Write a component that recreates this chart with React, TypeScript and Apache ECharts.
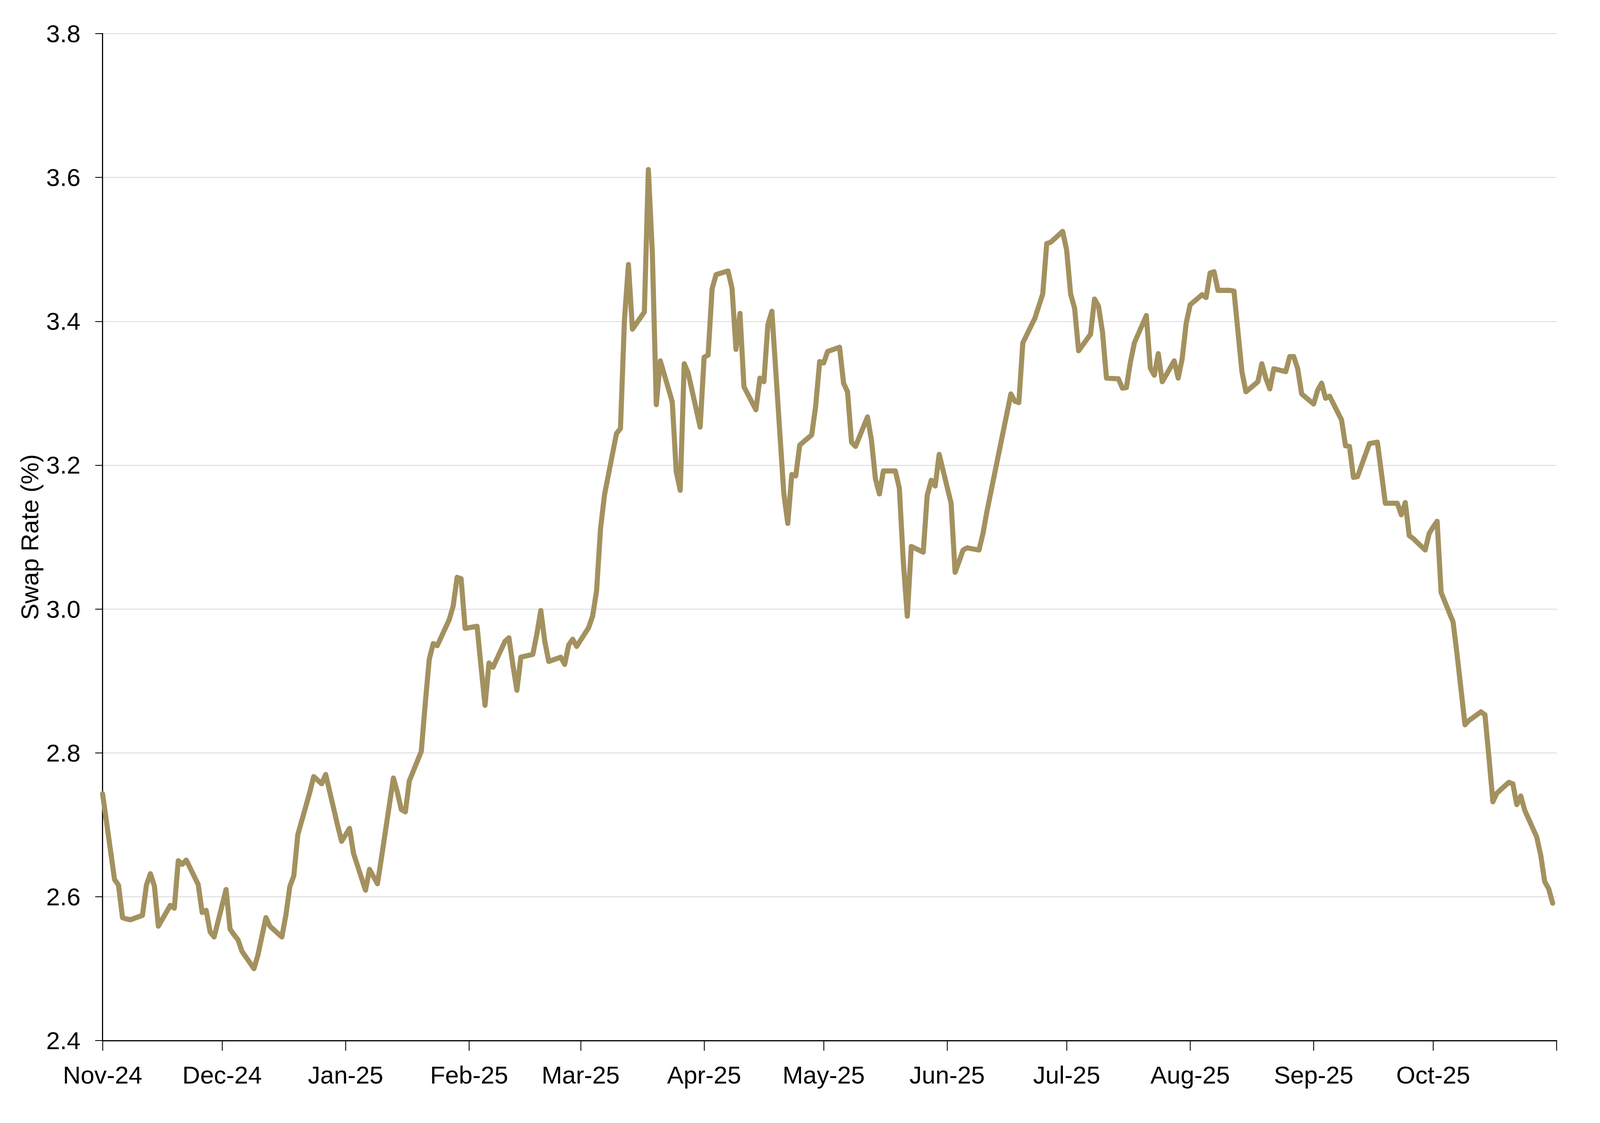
import React, { useEffect, useRef } from "react";
import * as echarts from "echarts";

const obsDates: string[] = [
  "2024-11-01","2024-11-04","2024-11-05","2024-11-06","2024-11-07","2024-11-08","2024-11-11","2024-11-12","2024-11-13","2024-11-14","2024-11-15",
  "2024-11-18","2024-11-19","2024-11-20","2024-11-21","2024-11-22","2024-11-25","2024-11-26","2024-11-27","2024-11-28","2024-11-29",
  "2024-12-02","2024-12-03","2024-12-04","2024-12-05","2024-12-06","2024-12-09","2024-12-10","2024-12-11","2024-12-12","2024-12-13",
  "2024-12-16","2024-12-17","2024-12-18","2024-12-19","2024-12-20","2024-12-23","2024-12-24","2024-12-26","2024-12-27","2024-12-30","2024-12-31",
  "2025-01-02","2025-01-03","2025-01-06","2025-01-07","2025-01-08","2025-01-09","2025-01-10","2025-01-13","2025-01-14","2025-01-15","2025-01-16","2025-01-17",
  "2025-01-20","2025-01-21","2025-01-22","2025-01-23","2025-01-24","2025-01-27","2025-01-28","2025-01-29","2025-01-30","2025-01-31",
  "2025-02-03","2025-02-04","2025-02-05","2025-02-06","2025-02-07","2025-02-10","2025-02-11","2025-02-12","2025-02-13","2025-02-14",
  "2025-02-17","2025-02-18","2025-02-19","2025-02-20","2025-02-21","2025-02-24","2025-02-25","2025-02-26","2025-02-27","2025-02-28",
  "2025-03-03","2025-03-04","2025-03-05","2025-03-06","2025-03-07","2025-03-10","2025-03-11","2025-03-12","2025-03-13","2025-03-14",
  "2025-03-17","2025-03-18","2025-03-19","2025-03-20","2025-03-21","2025-03-24","2025-03-25","2025-03-26","2025-03-27","2025-03-28","2025-03-31",
  "2025-04-01","2025-04-02","2025-04-03","2025-04-04","2025-04-07","2025-04-08","2025-04-09","2025-04-10","2025-04-11",
  "2025-04-14","2025-04-15","2025-04-16","2025-04-17","2025-04-18","2025-04-21","2025-04-22","2025-04-23","2025-04-24","2025-04-25",
  "2025-04-28","2025-04-29","2025-04-30","2025-05-01","2025-05-02","2025-05-05","2025-05-06","2025-05-07","2025-05-08","2025-05-09",
  "2025-05-12","2025-05-13","2025-05-14","2025-05-15","2025-05-16","2025-05-19","2025-05-20","2025-05-21","2025-05-22","2025-05-23",
  "2025-05-26","2025-05-27","2025-05-28","2025-05-29","2025-05-30","2025-06-02","2025-06-03","2025-06-04","2025-06-05","2025-06-06",
  "2025-06-09","2025-06-10","2025-06-11","2025-06-17","2025-06-18","2025-06-19","2025-06-20","2025-06-23","2025-06-24","2025-06-25","2025-06-26","2025-06-27",
  "2025-06-30","2025-07-01","2025-07-02","2025-07-03","2025-07-04","2025-07-07","2025-07-08","2025-07-09","2025-07-10","2025-07-11",
  "2025-07-14","2025-07-15","2025-07-16","2025-07-17","2025-07-18","2025-07-21","2025-07-22","2025-07-23","2025-07-24","2025-07-25",
  "2025-07-28","2025-07-29","2025-07-30","2025-07-31","2025-08-01","2025-08-04","2025-08-05","2025-08-06","2025-08-07","2025-08-08",
  "2025-08-11","2025-08-12","2025-08-13","2025-08-14","2025-08-15","2025-08-18","2025-08-19","2025-08-20","2025-08-21","2025-08-22",
  "2025-08-25","2025-08-26","2025-08-27","2025-08-28","2025-08-29","2025-09-01","2025-09-02","2025-09-03","2025-09-04","2025-09-05",
  "2025-09-08","2025-09-09","2025-09-10","2025-09-11","2025-09-12","2025-09-15","2025-09-16","2025-09-17","2025-09-18","2025-09-19",
  "2025-09-22","2025-09-23","2025-09-24","2025-09-25","2025-09-26","2025-09-29","2025-09-30","2025-10-01","2025-10-02","2025-10-03",
  "2025-10-06","2025-10-07","2025-10-08","2025-10-09","2025-10-10","2025-10-13","2025-10-14","2025-10-15","2025-10-16","2025-10-17",
  "2025-10-20","2025-10-21","2025-10-22","2025-10-23","2025-10-24","2025-10-27","2025-10-28","2025-10-29","2025-10-30","2025-10-31"
];

const swapRates: number[] = [
  2.743,2.624,2.616,2.571,2.569,2.568,2.574,2.616,2.632,2.615,2.559,
  2.588,2.584,2.650,2.645,2.651,2.617,2.578,2.581,2.551,2.544,
  2.610,2.555,2.547,2.540,2.524,2.500,2.519,2.545,2.571,2.559,
  2.544,2.574,2.614,2.629,2.686,2.745,2.767,2.757,2.770,2.699,2.677,
  2.695,2.660,2.609,2.638,2.628,2.618,2.654,2.765,2.745,2.721,2.718,2.761,
  2.802,2.869,2.930,2.952,2.949,2.985,3.004,3.044,3.042,2.973,
  2.976,2.920,2.866,2.925,2.919,2.955,2.960,2.922,2.887,2.933,
  2.937,2.965,2.998,2.955,2.927,2.933,2.923,2.950,2.958,2.948,
  2.974,2.990,3.025,3.112,3.159,3.244,3.251,3.402,3.479,3.389,
  3.413,3.611,3.495,3.284,3.345,3.288,3.191,3.165,3.341,3.328,3.253,
  3.350,3.353,3.445,3.465,3.470,3.446,3.361,3.411,3.309,
  3.277,3.321,3.316,3.395,3.414,3.161,3.119,3.187,3.185,3.228,
  3.242,3.282,3.344,3.342,3.358,3.364,3.314,3.302,3.232,3.226,
  3.267,3.235,3.181,3.160,3.192,3.192,3.168,3.066,2.990,3.087,
  3.079,3.158,3.179,3.171,3.215,3.147,3.051,3.066,3.082,3.085,
  3.082,3.105,3.136,3.299,3.289,3.287,3.370,3.404,3.421,3.438,3.508,3.510,
  3.525,3.499,3.438,3.418,3.359,3.382,3.431,3.421,3.385,3.321,
  3.320,3.307,3.308,3.343,3.370,3.408,3.335,3.325,3.355,3.316,
  3.345,3.321,3.348,3.397,3.423,3.437,3.433,3.467,3.469,3.443,
  3.443,3.442,3.386,3.330,3.302,3.316,3.341,3.321,3.306,3.334,
  3.330,3.351,3.351,3.334,3.299,3.285,3.304,3.314,3.293,3.296,
  3.263,3.227,3.226,3.183,3.184,3.230,3.231,3.232,3.190,3.147,
  3.147,3.131,3.148,3.102,3.098,3.082,3.105,3.114,3.122,3.023,
  2.982,2.937,2.888,2.839,2.845,2.857,2.853,2.794,2.732,2.744,
  2.759,2.757,2.728,2.740,2.720,2.683,2.658,2.621,2.611,2.591
];

// Month tick positions and their labels
const monthStarts: string[] = [
  "2024-11-01","2024-12-01","2025-01-01","2025-02-01","2025-03-01","2025-04-01",
  "2025-05-01","2025-06-01","2025-07-01","2025-08-01","2025-09-01","2025-10-01"
];
const monthLabels: string[] = [
  "Nov-24","Dec-24","Jan-25","Feb-25","Mar-25","Apr-25",
  "May-25","Jun-25","Jul-25","Aug-25","Sep-25","Oct-25"
];

const axisStart = "2024-11-01";
const axisEnd = "2025-11-01";
const yMin = 2.4;
const yMax = 3.8;
const yStep = 0.2;

// Reference canvas size (layout is designed for it and scaled to the real viewport)
const REF_W = 5646;
const REF_H = 2874;

function buildDays(start: string, end: string): string[] {
  const out: string[] = [];
  const d = new Date(start + "T00:00:00Z");
  const e = new Date(end + "T00:00:00Z");
  while (d.getTime() <= e.getTime()) {
    out.push(d.toISOString().slice(0, 10));
    d.setUTCDate(d.getUTCDate() + 1);
  }
  return out;
}

const FONT = "'Liberation Sans', Arial, Helvetica, sans-serif";

export default function App() {
  const ref = useRef<HTMLDivElement>(null);

  useEffect(() => {
    const el = ref.current;
    if (!el) return;
    const W = el.clientWidth || window.innerWidth || REF_W;
    const H = el.clientHeight || window.innerHeight || REF_H;
    const sx = W / REF_W;
    const sy = H / REF_H;
    const s = Math.min(sx, sy);
    const chart = echarts.init(el, null, { renderer: "svg", width: W, height: H });
    const days = buildDays(axisStart, axisEnd);
    const rateByDate = new Map<string, number>();
    obsDates.forEach((d, i) => rateByDate.set(d, swapRates[i]));
    const seriesData = days.map((d) => (rateByDate.has(d) ? rateByDate.get(d)! : null));
    const fs = 87 * s;

    chart.setOption({
      animation: false,
      backgroundColor: "#ffffff",
      textStyle: { fontFamily: FONT },
      grid: { left: 362 * sx, right: 153 * sx, top: 86 * sy, bottom: 211 * sy, containLabel: false },
      xAxis: {
        type: "category",
        data: days,
        boundaryGap: false,
        axisLine: { show: true, lineStyle: { color: "#000000", width: 4 * s } },
        axisTick: {
          show: true,
          length: 26 * sy,
          lineStyle: { color: "#000000", width: 3 * s },
          interval: (_i: number, v: string) => monthStarts.indexOf(v) >= 0 || v === axisEnd,
        },
        axisLabel: {
          show: true,
          interval: (_i: number, v: string) => monthStarts.indexOf(v) >= 0,
          formatter: (v: string) => {
            const k = monthStarts.indexOf(v);
            return k >= 0 ? monthLabels[k] : "";
          },
          margin: 56 * sy,
          fontSize: fs,
          color: "#000000",
          fontFamily: FONT,
        },
        splitLine: { show: false },
      },
      yAxis: {
        type: "value",
        min: yMin,
        max: yMax,
        interval: yStep,
        name: "Swap Rate (%)",
        nameLocation: "middle",
        nameGap: 208 * sx,
        nameTextStyle: { fontSize: fs, color: "#000000", fontFamily: FONT },
        axisLine: { show: true, lineStyle: { color: "#000000", width: 4 * s } },
        axisTick: { show: true, length: 26 * sx, lineStyle: { color: "#000000", width: 3 * s } },
        axisLabel: {
          formatter: (v: number) => v.toFixed(1),
          margin: 78 * sx,
          fontSize: fs,
          color: "#000000",
          fontFamily: FONT,
        },
        splitLine: { show: true, lineStyle: { color: "#d9d9d9", width: 3 * s } },
      },
      series: [
        {
          type: "line",
          data: seriesData,
          connectNulls: true,
          showSymbol: false,
          symbol: "none",
          lineStyle: { color: "#A3915F", width: 18 * s, cap: "round", join: "round" },
          itemStyle: { color: "#A3915F" },
        },
      ],
    });

    return () => chart.dispose();
  }, []);

  return (
    <div
      ref={ref}
      style={{
        position: "fixed",
        left: 0,
        top: 0,
        width: "100vw",
        height: "100vh",
        background: "#ffffff",
        overflow: "hidden",
      }}
    />
  );
}
